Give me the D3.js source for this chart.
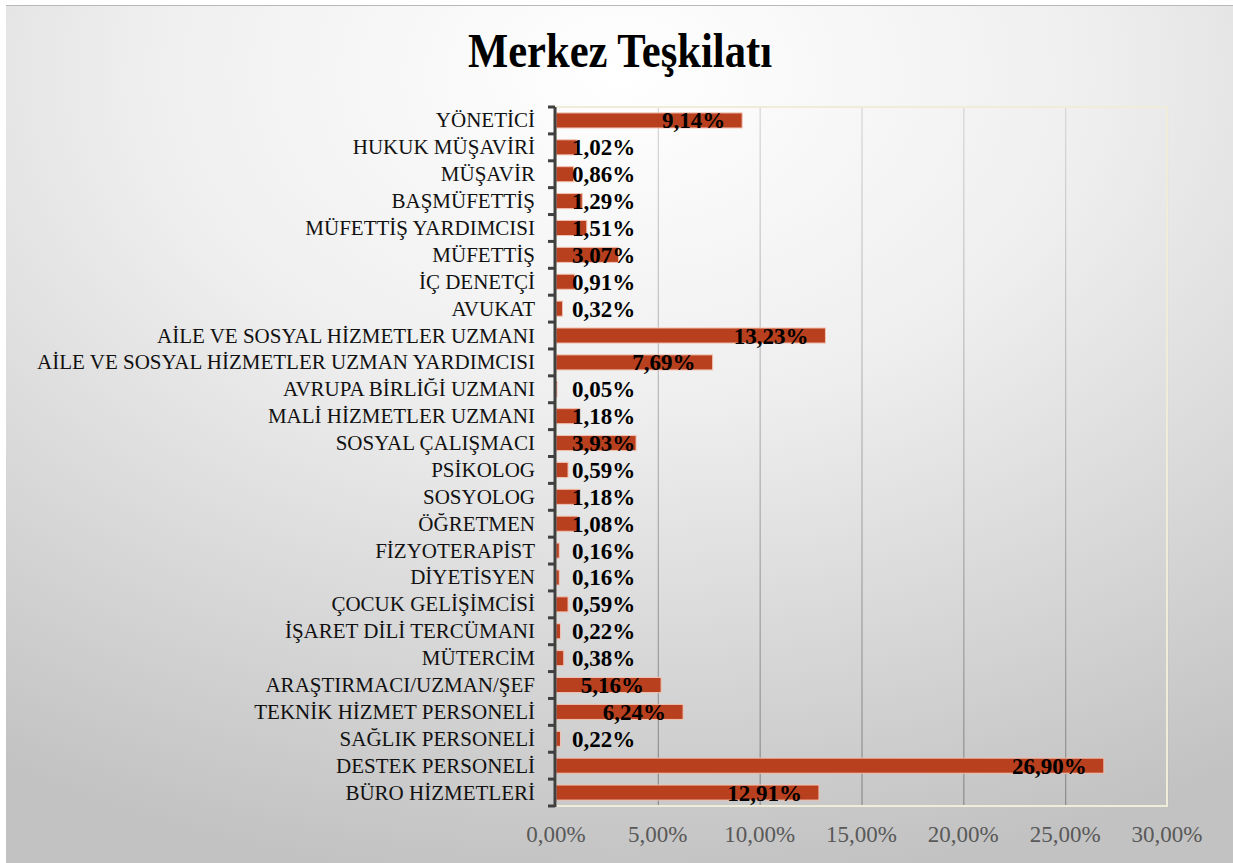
<!DOCTYPE html>
<html><head><meta charset="utf-8">
<script src="https://cdn.jsdelivr.net/npm/d3@7"></script>
<style>html,body{margin:0;padding:0;background:#fff;}svg{display:block;}</style>
</head><body>
<svg id="c" width="1233" height="863"></svg>
<script>
const titleText = "Merkez Teşkilatı";
const categories = [
 "YÖNETİCİ","HUKUK MÜŞAVİRİ","MÜŞAVİR","BAŞMÜFETTİŞ","MÜFETTİŞ YARDIMCISI","MÜFETTİŞ",
 "İÇ DENETÇİ","AVUKAT","AİLE VE SOSYAL HİZMETLER UZMANI","AİLE VE SOSYAL HİZMETLER UZMAN YARDIMCISI",
 "AVRUPA BİRLİĞİ UZMANI","MALİ HİZMETLER UZMANI","SOSYAL ÇALIŞMACI","PSİKOLOG","SOSYOLOG",
 "ÖĞRETMEN","FİZYOTERAPİST","DİYETİSYEN","ÇOCUK GELİŞİMCİSİ","İŞARET DİLİ TERCÜMANI","MÜTERCİM",
 "ARAŞTIRMACI/UZMAN/ŞEF","TEKNİK HİZMET PERSONELİ","SAĞLIK PERSONELİ","DESTEK PERSONELİ","BÜRO HİZMETLERİ"
];
const values = [9.14,1.02,0.86,1.29,1.51,3.07,0.91,0.32,13.23,7.69,0.05,1.18,3.93,0.59,1.18,1.08,0.16,0.16,0.59,0.22,0.38,5.16,6.24,0.22,26.90,12.91];
const xTicks = [0,5,10,15,20,25,30];

(function(){
const svg = d3.select("#c");
const W = 1233, H = 863;
const defs = svg.append("defs");
const rg = defs.append("radialGradient").attr("id","bg")
  .attr("cx","50%").attr("cy","8%").attr("r","95%").attr("fx","50%").attr("fy","8%");
rg.append("stop").attr("offset","0%").attr("stop-color","#ffffff");
rg.append("stop").attr("offset","40%").attr("stop-color","#efefef");
rg.append("stop").attr("offset","100%").attr("stop-color","#c2c2c2");
const lg = defs.append("linearGradient").attr("id","grid").attr("gradientUnits","userSpaceOnUse")
  .attr("x1",0).attr("y1",107).attr("x2",0).attr("y2",806);
lg.append("stop").attr("offset","0%").attr("stop-color","#d6d6d6");
lg.append("stop").attr("offset","100%").attr("stop-color","#8a8a8a");

svg.append("rect").attr("x",6).attr("y",5).attr("width",W-6).attr("height",H-5).attr("fill","url(#bg)");
svg.append("line").attr("x1",6).attr("x2",W).attr("y1",5.5).attr("y2",5.5).attr("stroke","#b8b8b8").attr("stroke-width",1);

const loc = d3.formatLocale({decimal:",", thousands:".", grouping:[3], currency:["","₺"]});
const fmt = loc.format(".2%");

const pL = 556, pR = 1167, pT = 107, pB = 806;
const x = d3.scaleLinear().domain([0, 30]).range([pL, pR]);
const y = d3.scaleBand().domain(categories).range([pT, pB]).paddingInner(0.44).paddingOuter(0.22);

svg.append("text").attr("x",620).attr("y",67).attr("text-anchor","middle")
  .attr("font-family","Liberation Serif, Times New Roman, serif").attr("font-weight","bold")
  .attr("font-size",48).attr("textLength",304).attr("lengthAdjust","spacingAndGlyphs")
  .attr("fill","#000").text(titleText);

svg.append("g").selectAll("line").data(xTicks.slice(1)).join("line")
  .attr("x1",d=>x(d)+0.5).attr("x2",d=>x(d)+0.5).attr("y1",pT).attr("y2",pB)
  .attr("stroke","url(#grid)").attr("stroke-width",1.2);

svg.append("rect").attr("x",pL).attr("y",pT).attr("width",pR-pL).attr("height",pB-pT)
  .attr("fill","none").attr("stroke","#efedd9").attr("stroke-width",2);

svg.append("g").selectAll("rect").data(values).join("rect")
  .attr("x",pL).attr("y",(d,i)=>y(categories[i]))
  .attr("width",d=>x(d)-pL).attr("height",y.bandwidth())
  .attr("fill","#b9401e").attr("stroke","#f2c2b2").attr("stroke-width",1);

const step = y.step();
const ag = svg.append("g");
ag.append("line").attr("x1",555).attr("x2",555).attr("y1",pT).attr("y2",pB+1)
  .attr("stroke","#404040").attr("stroke-width",3);
ag.selectAll("line.t").data(d3.range(categories.length+1)).join("line").attr("class","t")
  .attr("x1",548).attr("x2",555).attr("y1",i=>pT+i*step).attr("y2",i=>pT+i*step)
  .attr("stroke","#404040").attr("stroke-width",3);

svg.append("g").selectAll("text").data(categories).join("text")
  .attr("x",535).attr("y",d=>y(d)+y.bandwidth()/2+7)
  .attr("text-anchor","end").attr("font-family","Liberation Serif, Times New Roman, serif")
  .attr("font-size",21).attr("fill","#111").text(d=>d);

svg.append("g").selectAll("text").data(xTicks).join("text")
  .attr("x",d=>x(d)).attr("y",842).attr("text-anchor","middle")
  .attr("font-family","Liberation Serif, Times New Roman, serif")
  .attr("font-size",23).attr("fill","#595959").text(d=>fmt(d/100));

const dl = svg.append("g").selectAll("text").data(values).join("text")
  .attr("y",(d,i)=>y(categories[i])+y.bandwidth()/2+8)
  .attr("font-family","Liberation Serif, Times New Roman, serif").attr("font-weight","bold")
  .attr("font-size",23).attr("fill","#000").text(d=>fmt(d/100));
dl.each(function(d){
  const w = this.getComputedTextLength();
  const lx = Math.max(x(d)-17-w, 572);
  d3.select(this).attr("x",lx);
});
})();
</script>
</body></html>
